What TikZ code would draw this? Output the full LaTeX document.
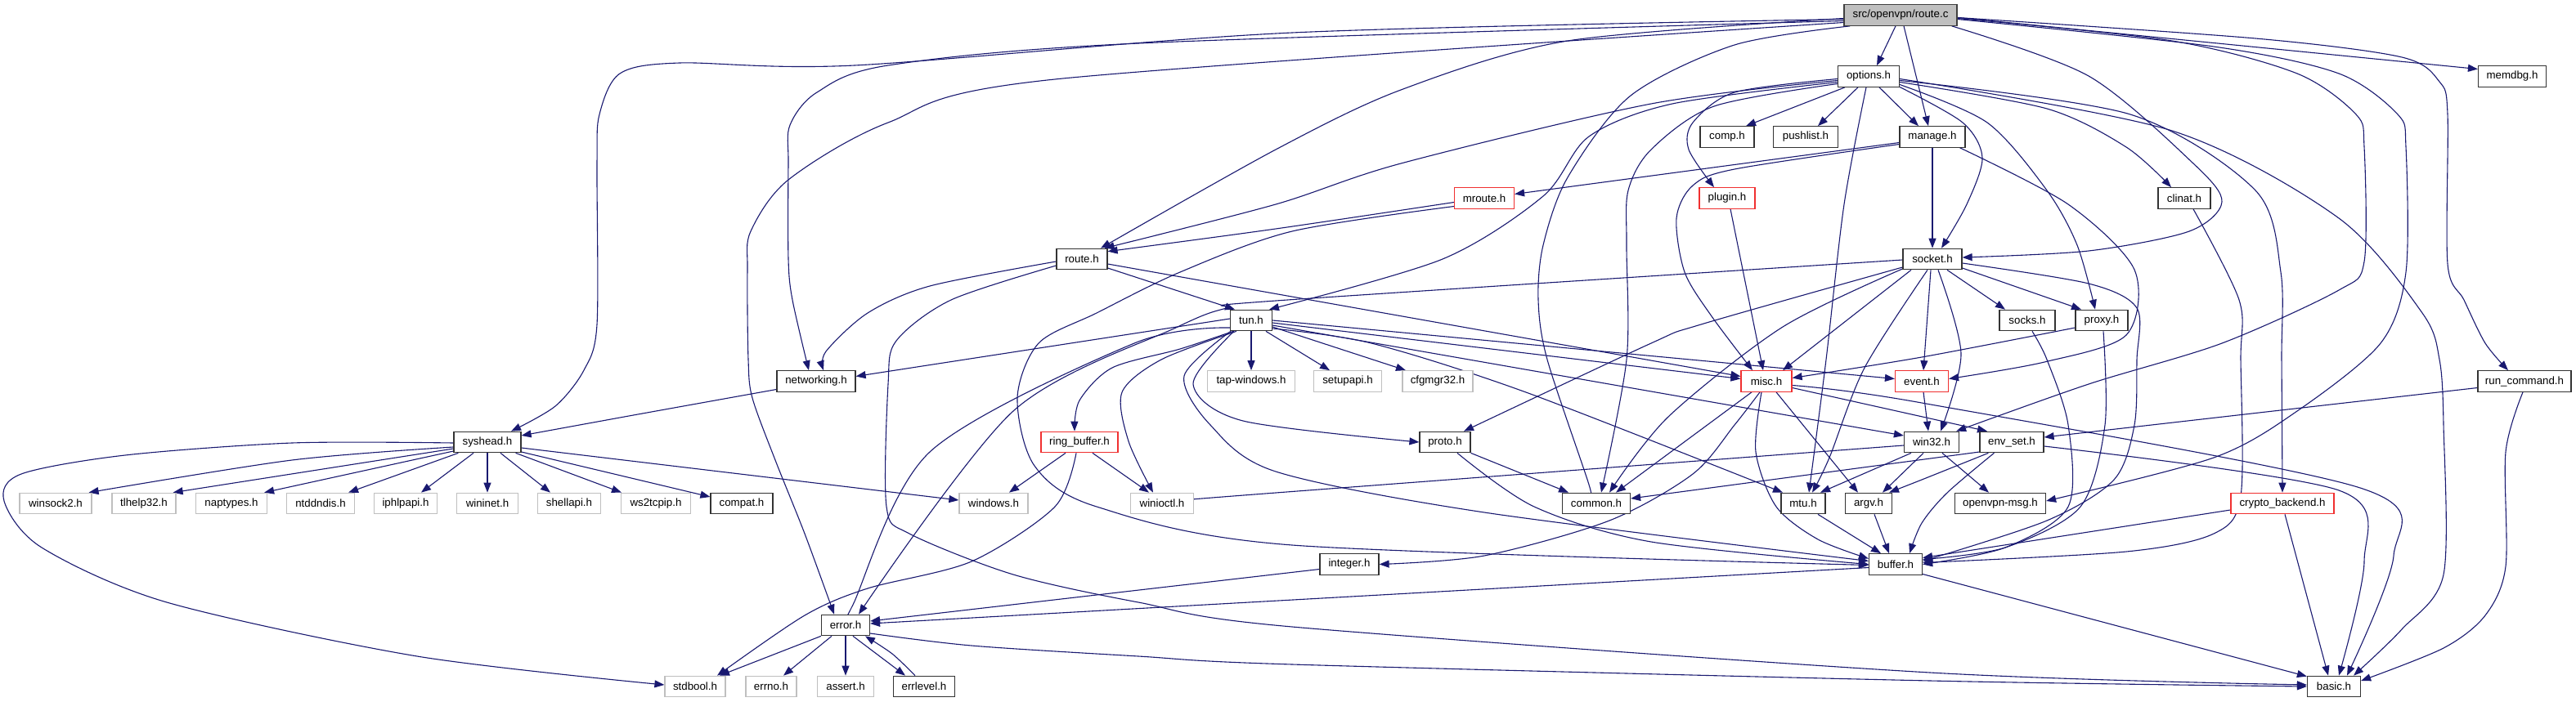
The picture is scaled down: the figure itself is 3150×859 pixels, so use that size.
\documentclass[tikz,border=0pt]{standalone}
\usepackage{fontspec}
\setmainfont{Liberation Sans}
\usetikzlibrary{arrows.meta}
\definecolor{edgecol}{HTML}{191970}
\definecolor{trunccol}{HTML}{F03030}
\definecolor{rootfill}{HTML}{BFBFBF}
\newcommand\gfont{\fontsize{13.3}{16}\selectfont}
\pgfdeclarelayer{bg}
\pgfsetlayers{bg,main}
\tikzset{
  box/.style={draw, line width=1.2pt, minimum height=25.5pt, inner sep=0pt, font=\gfont, fill=white, text=black},
  doc/.style={box, draw=black!80},
  undoc/.style={box, draw=black!25},
  trunc/.style={box, draw=trunccol},
  root/.style={box, draw=black!75, fill=rootfill},
  e/.style={draw=edgecol, line width=1.1pt, -{Triangle[length=12pt,width=9pt]}},
}
\begin{document}
\begin{tikzpicture}[x=1pt,y=-1pt]
\useasboundingbox (0,0) rectangle (3150,859);
% row 0
\node[root, minimum width=138] (rc) at (2324,18.5) {src/openvpn/route.c};
% row 1
\node[doc, minimum width=75] (opt) at (2285,93.5) {options.h};
\node[doc, minimum width=83] (memdbg) at (3072,93.5) {memdbg.h};
% row 2
\node[doc, minimum width=66] (comp) at (2112,167.5) {comp.h};
\node[doc, minimum width=79] (push) at (2208,167.5) {pushlist.h};
\node[doc, minimum width=80] (mng) at (2363,167.5) {manage.h};
% row 3
\node[trunc, minimum width=73] (mroute) at (1815,242.5) {mroute.h};
\node[trunc, minimum width=68] (plugin) at (2112,242.5) {plugin.h};
\node[doc, minimum width=64] (clinat) at (2671,242.5) {clinat.h};
% row 4
\node[doc, minimum width=62] (rh) at (1323,317) {route.h};
\node[doc, minimum width=72] (sock) at (2363,317) {socket.h};
% row 5
\node[doc, minimum width=51] (tun) at (1530,392) {tun.h};
\node[doc, minimum width=68] (socks) at (2479,392) {socks.h};
\node[doc, minimum width=64] (proxy) at (2570,392) {proxy.h};
% row 6
\node[doc, minimum width=96] (net) at (998,466.5) {networking.h};
\node[undoc, minimum width=107] (tap) at (1530,466.5) {tap-windows.h};
\node[undoc, minimum width=83] (setup) at (1648,466.5) {setupapi.h};
\node[undoc, minimum width=86] (cfg) at (1758,466.5) {cfgmgr32.h};
\node[trunc, minimum width=62] (misc) at (2160,466.5) {misc.h};
\node[trunc, minimum width=65] (event) at (2350,466.5) {event.h};
\node[doc, minimum width=114] (runc) at (3087,466.5) {run\_command.h};
% row 7
\node[doc, minimum width=82] (sys) at (596,541) {syshead.h};
\node[trunc, minimum width=94] (ring) at (1320,541) {ring\_buffer.h};
\node[doc, minimum width=62] (proto) at (1767,541) {proto.h};
\node[doc, minimum width=67] (win) at (2362,541) {win32.h};
\node[doc, minimum width=78] (env) at (2460,541) {env\_set.h};
% row 8
\node[undoc, minimum width=88] (ws2) at (68,616) {winsock2.h};
\node[undoc, minimum width=78] (tlh) at (176,616) {tlhelp32.h};
\node[undoc, minimum width=87] (nap) at (283,616) {naptypes.h};
\node[undoc, minimum width=83] (ntd) at (392,616) {ntddndis.h};
\node[undoc, minimum width=77] (iph) at (496,616) {iphlpapi.h};
\node[undoc, minimum width=75] (wini) at (596,616) {wininet.h};
\node[undoc, minimum width=77] (shell) at (696,616) {shellapi.h};
\node[undoc, minimum width=85] (wstcp) at (802,616) {ws2tcpip.h};
\node[doc, minimum width=76] (compat) at (907,616) {compat.h};
\node[undoc, minimum width=84] (windows) at (1215,616) {windows.h};
\node[undoc, minimum width=77] (winioctl) at (1421,616) {winioctl.h};
\node[doc, minimum width=83] (common) at (1952,616) {common.h};
\node[doc, minimum width=54] (mtu) at (2205,616) {mtu.h};
\node[doc, minimum width=57] (argv) at (2285,616) {argv.h};
\node[doc, minimum width=111] (ovmsg) at (2446,616) {openvpn-msg.h};
\node[trunc, minimum width=126] (crypto) at (2791,616) {crypto\_backend.h};
% row 9
\node[doc, minimum width=72] (integer) at (1650,690.5) {integer.h};
\node[doc, minimum width=65] (buffer) at (2318,690.5) {buffer.h};
% row 10
\node[doc, minimum width=59] (error) at (1034,765) {error.h};
% row 11
\node[undoc, minimum width=74] (stdbool) at (850,840) {stdbool.h};
\node[undoc, minimum width=62] (errno) at (943,840) {errno.h};
\node[undoc, minimum width=69] (assert) at (1034,840) {assert.h};
\node[doc, minimum width=75] (errlevel) at (1130,840) {errlevel.h};
\node[doc, minimum width=65] (basic) at (2854,840) {basic.h};

\begin{pgfonlayer}{bg}
% ---- route.c
\draw[e] ([xshift=-6pt]rc.south) -- ([xshift=10pt]opt.north);
\draw[e] ([xshift=4pt]rc.south) -- ([xshift=-5pt]mng.north);
\draw[e] ([yshift=-3pt]rc.east) -- ([yshift=9pt]memdbg.west);
\draw[e] plot[smooth] coordinates {([yshift=-4pt]rc.west) (1917,50) (1713,110) (1560,183) ([xshift=23pt]rh.north)};
\draw[e] plot[smooth] coordinates {([yshift=-5pt]rc.west) (1580,40) (1045,80) (831,77) (758,90) (733,140) (730,200) (730,397) (714,453) (679,497) ([xshift=29pt]sys.north)};
\draw[e] plot[smooth] coordinates {([yshift=-7pt]rc.west) (1392,53) (1086,80) (999,113) (966,153) (964,200) (964,317) (969,367) ([xshift=-9pt]net.north)};
\draw[e] plot[smooth] coordinates {([yshift=-9pt]rc.west) (1290,97) (1086,150) (964,220) (918,283) (914,330) (915,440) (920,487) (948,563) (984,653) ([xshift=-14pt]error.north)};
\draw[e] plot[smooth] coordinates {([xshift=8pt]rc.south west) (2121,55) (1994,117) (1917,217) (1887,300) (1881,367) (1892,440) (1943,593) ([xshift=-10pt]common.north)};
\draw[e] plot[smooth] coordinates {([xshift=-7pt]rc.south east) (2554,93) (2682,200) (2717,247) (2677,283) (2554,307) ([yshift=2pt]sock.east)};
\draw[e] plot[smooth] coordinates {([yshift=-4pt]rc.east) (2656,50) (2809,90) (2881,140) (2891,180) (2891,320) (2860,355) (2717,420) (2554,470) ([xshift=-4pt]win.north east)};
\draw[e] plot[smooth] coordinates {([yshift=-5pt]rc.east) (2707,57) (2860,90) (2932,140) (2942,180) (2942,333) (2911,420) (2809,503) (2707,560) ([yshift=3pt]ovmsg.east)};
\draw[e] plot[smooth] coordinates {([yshift=-3pt]rc.east) (2758,47) (2937,70) (2983,100) (2993,140) (2993,323) (3013,367) (3039,420) ([xshift=-20pt]runc.north)};
% ---- options.h
\draw[e] ([xshift=-29pt]opt.south) -- ([xshift=23pt]comp.north);
\draw[e] ([xshift=-13pt]opt.south) -- ([xshift=15pt]push.north);
\draw[e] ([xshift=13pt]opt.south) -- ([xshift=-17pt]mng.north);
\draw[e] plot[smooth] coordinates {([yshift=-3pt]opt.west) (2121,113) (2070,150) (2065,183) ([xshift=-16pt]plugin.north)};
\draw[e] plot[smooth] coordinates {([yshift=-5pt]opt.west) (2019,127) (1713,200) (1560,250) ([xshift=-4pt]rh.north east)};
\draw[e] plot[smooth] coordinates {([yshift=-7pt]opt.west) (2045,127) (1943,167) (1887,240) (1764,317) ([xshift=22pt]tun.north)};
\draw[e] plot[smooth] coordinates {([yshift=-9pt]opt.west) (2096,130) (2019,183) (1991,233) (1989,300) (1989,440) ([xshift=6pt]common.north)};
\draw[e] plot[smooth] coordinates {([xshift=-3pt]opt.south) (2255,250) (2233,440) ([xshift=7pt]mtu.north)};
\draw[e] plot[smooth] coordinates {([yshift=-13pt]opt.east) (2400,150) (2424,193) (2405,250) ([xshift=11pt]sock.north)};
\draw[e] plot[smooth] coordinates {([yshift=-10pt]opt.east) (2430,150) (2503,233) (2540,300) ([xshift=-8pt]proxy.north)};
\draw[e] plot[smooth] coordinates {([yshift=-7pt]opt.east) (2503,133) (2600,180) ([xshift=-16pt]clinat.north)};
\draw[e] plot[smooth] coordinates {([yshift=-5pt]opt.east) (2605,140) (2758,233) (2789,333) (2790,440) (crypto.north)};
\draw[e] plot[smooth] coordinates {([yshift=-3pt]opt.east) (2656,160) (2860,267) (2962,383) (2983,440) (2988,520) (2988,703) (2937,770) ([xshift=24pt]basic.north)};
% ---- manage.h
\draw[e] ([yshift=-7pt]mng.west) -- ([yshift=5pt]mroute.east);
\draw[e] plot[smooth] coordinates {([yshift=-9pt]mng.west) (2121,207) (2070,227) (2050,267) (2060,333) (2093,387) ([xshift=-17pt]misc.north)};
\draw[e] (mng.south) -- (sock.north);
\draw[e] plot[smooth] coordinates {([xshift=-7pt]mng.south east) (2529,250) (2610,330) (2600,410) (2500,443) ([yshift=3pt]event.east)};
% ---- mroute.h, plugin.h, clinat.h
\draw[e] plot[smooth] coordinates {([yshift=-5pt]mroute.west) (1560,280) ([yshift=-4pt]rh.north east)};
\draw[e] plot[smooth] coordinates {([yshift=-10pt]mroute.west) (1580,283) (1443,333) (1341,383) (1270,420) (1244,487) (1265,570) (1341,620) (1580,667) ([yshift=-1pt]buffer.west)};
\draw[e] ([xshift=4pt]plugin.south) -- ([xshift=-4pt]misc.north);
\draw[e] plot[smooth] coordinates {([xshift=11pt]clinat.south) (2738,367) (2740,440) (2740,607) (2707,653) (2600,675) ([yshift=2pt]buffer.east)};
% ---- route.h
\draw[e] ([yshift=-11pt]rh.east) -- ([xshift=-20pt]tun.north);
\draw[e] ([yshift=-6pt]rh.east) -- ([yshift=6pt]misc.west);
\draw[e] plot[smooth] coordinates {([yshift=-3pt]rh.west) (1137,350) (1061,383) (1010,430) ([xshift=9pt]net.north)};
\draw[e] plot[smooth] coordinates {([yshift=-8pt]rh.west) (1163,367) (1096,417) (1086,470) (1084,620) (1112,653) (1239,703) (1392,737) (1580,767) (2360,823) ([yshift=2pt]basic.west)};
% ---- tun.h
\draw[e] ([yshift=2pt]tun.west) -- ([yshift=6pt]net.east);
\draw[e] (tun.south) -- (tap.north);
\draw[e] ([xshift=18pt]tun.south) -- ([xshift=-22pt]setup.north);
\draw[e] ([yshift=-8pt]tun.east) -- ([xshift=-39pt]cfg.north);
\draw[e] plot[smooth] coordinates {([xshift=4pt]tun.south west) (1443,427) (1360,450) (1320,490) ([xshift=-6pt]ring.north)};
\draw[e] plot[smooth] coordinates {([xshift=8pt]tun.south west) (1420,440) (1372,480) (1380,540) ([xshift=-11pt]winioctl.north)};
\draw[e] plot[smooth] coordinates {([yshift=-9pt]tun.west) (1387,420) (1137,553) (1043,740) ([xshift=3pt]error.north)};
\draw[e] plot[smooth] coordinates {([xshift=5pt]tun.south west) (1459,470) (1520,515) (proto.west)};
\draw[e] plot[smooth] coordinates {([xshift=1pt]tun.south west) (1448,460) (1480,520) (1560,577) (1815,627) ([yshift=4pt]buffer.west)};
\draw[e] ([yshift=-3pt]tun.east) -- ([yshift=3pt]misc.west);
\draw[e] (tun.east) -- ([yshift=3pt]event.west);
\draw[e] ([yshift=-6pt]tun.east) -- ([yshift=8pt]win.west);
\draw[e] plot[smooth] coordinates {([yshift=-10pt]tun.east) (1677,420) (1866,480) ([xshift=-25pt]mtu.north)};
% ---- socket.h
\draw[e] ([xshift=-26pt]sock.south) -- ([xshift=20pt]misc.north);
\draw[e] ([xshift=-2pt]sock.south) -- ([xshift=2pt]event.north);
\draw[e] plot[smooth] coordinates {([xshift=7pt]sock.south) (2398,433) ([xshift=11pt]win.north)};
\draw[e] ([xshift=18pt]sock.south) -- ([xshift=-27pt]socks.north);
\draw[e] ([yshift=-11pt]sock.east) -- ([xshift=-25pt]proxy.north);
\draw[e] plot[smooth] coordinates {([yshift=-5pt]sock.east) (2554,347) (2613,377) (2613,440) (2610,520) (2585,587) (2503,637) ([yshift=4pt]buffer.east)};
\draw[e] plot[smooth] coordinates {([yshift=-12pt]sock.west) (2180,400) (2040,510) ([xshift=16pt]common.north)};
\draw[e] plot[smooth] coordinates {([xshift=-6pt]sock.south) (2280,450) (2237,560) ([xshift=11pt]mtu.north)};
\draw[e] plot[smooth] coordinates {([yshift=-10pt]sock.west) (2080,397) (2019,420) ([xshift=23pt]proto.north)};
\draw[e] plot[smooth] coordinates {([yshift=-1pt]sock.west) (1560,368) (1500,377) (1440,400) (1239,503) ([xshift=16pt]error.north)};
% ---- socks.h, proxy.h
\draw[e] plot[smooth] coordinates {([xshift=6pt]socks.south) (2503,440) (2529,520) (2529,620) (2452,670) (buffer.east)};
\draw[e] plot[smooth] coordinates {([yshift=-9pt]proxy.west) (2350,437) ([yshift=4pt]misc.east)};
\draw[e] plot[smooth] coordinates {([xshift=2pt]proxy.south) (2574,520) (2544,620) (2452,670) ([yshift=6pt]buffer.east)};
% ---- networking.h
\draw[e] plot[smooth] coordinates {([yshift=-10pt]net.west) (780,507) ([yshift=8pt]sys.east)};
% ---- misc.h
\draw[e] ([xshift=-18pt]misc.south) -- ([xshift=24pt]common.north);
\draw[e] plot[smooth] coordinates {([xshift=-8pt]misc.south) (2121,520) (2070,580) (1968,637) (1815,680) (integer.east)};
\draw[e] plot[smooth] coordinates {([xshift=-6pt]misc.south) (2147,553) (2172,620) (2223,660) ([yshift=7pt]buffer.west)};
\draw[e] ([xshift=12pt]misc.south) -- ([xshift=-13pt]argv.north);
\draw[e] ([yshift=-8pt]misc.east) -- ([xshift=-30pt]env.north);
\draw[e] plot[smooth] coordinates {([yshift=-5pt]misc.east) (2350,493) (2886,597) (2927,680) ([xshift=16pt]basic.north)};
% ---- event.h
\draw[e] ([xshift=2pt]event.south) -- ([xshift=-4pt]win.north);
% ---- run_command.h
\draw[e] ([yshift=-8pt]runc.west) -- ([yshift=6pt]env.east);
\draw[e] plot[smooth] coordinates {([xshift=-2pt]runc.south) (3064,553) (3064,693) (3039,753) (2988,793) ([yshift=7pt]basic.east)};
% ---- syshead.h
\draw[e] plot[smooth] coordinates {([yshift=-6pt]sys.west) (357,563) ([xshift=-4pt]ws2.north east)};
\draw[e] ([yshift=-8pt]sys.west) -- ([xshift=-4pt]tlh.north east);
\draw[e] ([yshift=-11pt]sys.west) -- ([xshift=-4pt]nap.north east);
\draw[e] ([xshift=6pt]sys.south west) -- ([xshift=-8pt]ntd.north east);
\draw[e] ([xshift=-17pt]sys.south) -- ([xshift=19pt]iph.north);
\draw[e] (sys.south) -- (wini.north);
\draw[e] ([xshift=16pt]sys.south) -- ([xshift=-23pt]shell.north);
\draw[e] ([xshift=-7pt]sys.south east) -- ([xshift=-42pt]wstcp.north);
\draw[e] ([yshift=-12pt]sys.east) -- ([yshift=8pt]compat.west);
\draw[e] ([yshift=-7pt]sys.east) -- ([yshift=4pt]windows.west);
\draw[e] plot[smooth] coordinates {([yshift=-1pt]sys.west) (357,542) (153,557) (26,580) (5,613) (51,670) (204,737) (510,803) ([yshift=2pt]stdbool.west)};
% ---- ring_buffer.h
\draw[e] ([xshift=-17pt]ring.south) -- ([xshift=19pt]windows.north);
\draw[e] ([xshift=16pt]ring.south) -- ([xshift=-16pt]winioctl.north);
\draw[e] plot[smooth] coordinates {([xshift=-4pt]ring.south) (1290,620) (1188,687) (1061,720) (984,753) ([xshift=27pt]stdbool.north)};
% ---- proto.h
\draw[e] (proto.south east) -- ([xshift=-34pt]common.north);
\draw[e] plot[smooth] coordinates {([xshift=15pt]proto.south) (1876,620) (2019,663) (buffer.west)};
% ---- win32.h
\draw[e] plot[smooth] coordinates {([yshift=-4pt]win.west) (1560,603) ([yshift=5pt]winioctl.east)};
\draw[e] ([xshift=-25pt]win.south) -- ([xshift=21pt]mtu.north);
\draw[e] ([xshift=-10pt]win.south) -- ([xshift=17pt]argv.north);
\draw[e] ([xshift=13pt]win.south) -- ([xshift=-14pt]ovmsg.north);
% ---- env_set.h
\draw[e] ([yshift=-12pt]env.west) -- ([yshift=6pt]common.east);
\draw[e] plot[smooth] coordinates {([xshift=11pt]env.south west) (2350,587) ([xshift=25pt]argv.north)};
\draw[e] plot[smooth] coordinates {([xshift=18pt]env.south west) (2381,603) (2350,640) ([xshift=17pt]buffer.north)};
\draw[e] plot[smooth] coordinates {([yshift=-5pt]env.east) (2860,600) (2891,687) ([xshift=6pt]basic.north)};
% ---- mtu, argv, crypto
\draw[e] ([xshift=18pt]mtu.south) -- ([xshift=-18pt]buffer.north);
\draw[e] ([xshift=7pt]argv.south) -- ([xshift=-8pt]buffer.north);
\draw[e] ([yshift=-8pt]crypto.west) -- ([yshift=8pt]buffer.east);
\draw[e] ([xshift=3pt]crypto.south) -- ([xshift=-7pt]basic.north);
% ---- integer, buffer
\draw[e] ([yshift=-6pt]integer.west) -- ([yshift=5pt]error.east);
\draw[e] ([yshift=-4pt]buffer.west) -- ([yshift=2pt]error.east);
\draw[e] ([yshift=-12pt]buffer.east) -- ([yshift=-1pt]basic.north west);
% ---- error.h
\draw[e] (error.south west) -- ([xshift=30pt]stdbool.north);
\draw[e] ([xshift=-17pt]error.south) -- ([xshift=15pt]errno.north);
\draw[e] (error.south) -- (assert.north);
\draw[e] ([xshift=9pt]error.south) -- ([xshift=-23pt]errlevel.north);
\draw[e] plot[smooth] coordinates {([xshift=-11pt]errlevel.north) (1091,800) ([xshift=24pt]error.south)};
\draw[e] plot[smooth] coordinates {([yshift=-10pt]error.east) (1188,790) (1392,803) (1580,813) (2360,833) (basic.west)};
\end{pgfonlayer}
\end{tikzpicture}
\end{document}
